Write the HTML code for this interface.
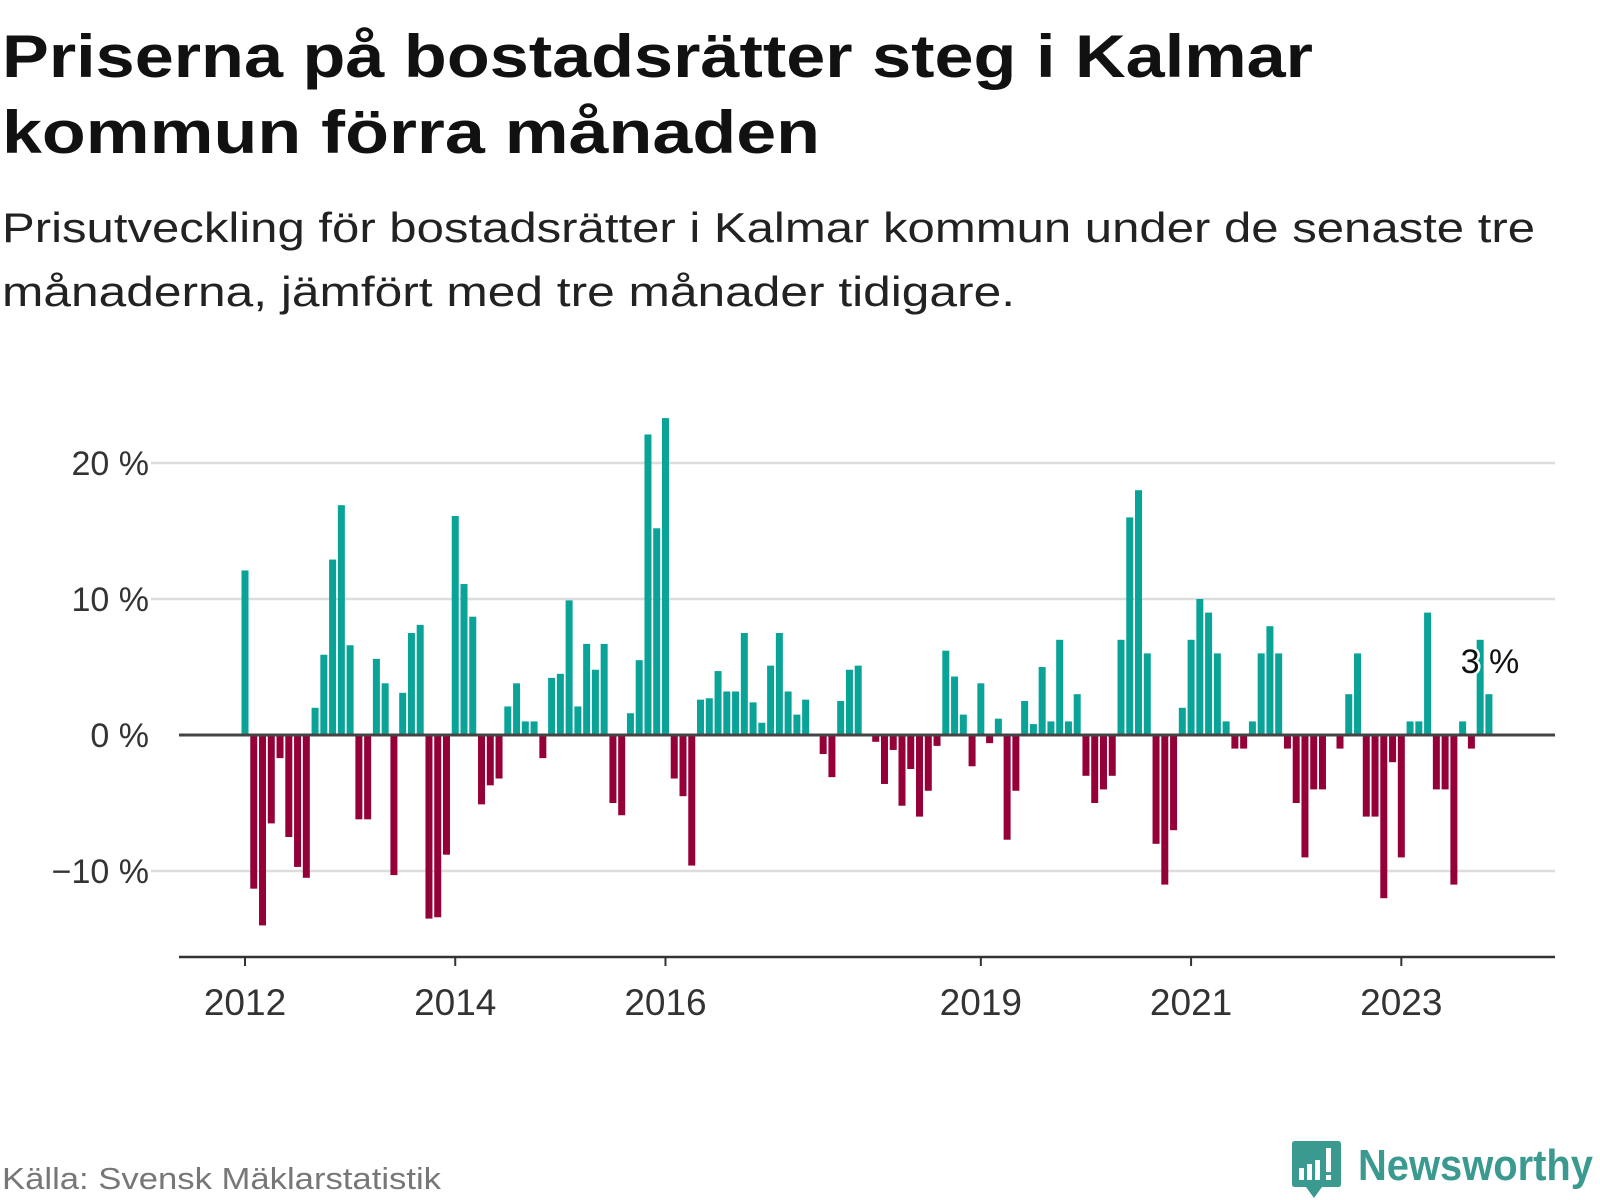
<!DOCTYPE html>
<html><head><meta charset="utf-8"><style>
html,body{margin:0;padding:0;background:#fff;}
svg{display:block;font-family:"Liberation Sans","DejaVu Sans",sans-serif;}
</style></head><body>
<svg id="chart" width="1600" height="1200" viewBox="0 0 1600 1200" xmlns="http://www.w3.org/2000/svg">
<text x="2" y="77" font-size="60" font-weight="bold" fill="#111" textLength="1311" lengthAdjust="spacingAndGlyphs">Priserna på bostadsrätter steg i Kalmar</text>
<text x="2" y="153" font-size="60" font-weight="bold" fill="#111" textLength="818" lengthAdjust="spacingAndGlyphs">kommun förra månaden</text>
<text x="2" y="242" font-size="42" fill="#222" textLength="1533" lengthAdjust="spacingAndGlyphs">Prisutveckling för bostadsrätter i Kalmar kommun under de senaste tre</text>
<text x="2" y="306" font-size="42" fill="#222" textLength="1013" lengthAdjust="spacingAndGlyphs">månaderna, jämfört med tre månader tidigare.</text>
<g id="grid"></g>
<g id="bars"></g>
<g id="axes"></g>
<text x="2" y="1189" font-size="31" fill="#777" textLength="439" lengthAdjust="spacingAndGlyphs">Källa: Svensk Mäklarstatistik</text>
<g>
<path d="M1292 1141 H1338 Q1341 1141 1341 1144 V1184 Q1341 1187 1338 1187 H1322 L1314 1198 L1306 1187 H1295 Q1292 1187 1292 1184 V1144 Q1292 1141 1295 1141 Z" fill="#3a9a8f"/>
<rect x="1299" y="1168" width="5" height="12" fill="#fff"/>
<rect x="1307" y="1164" width="5" height="16" fill="#fff"/>
<rect x="1315" y="1160" width="5" height="20" fill="#fff"/>
<rect x="1326" y="1148" width="5" height="24" fill="#fff"/>
<rect x="1326" y="1175" width="5" height="5" fill="#fff"/>
<text x="1358" y="1180" font-size="44" font-weight="bold" fill="#3a9a8f" textLength="235" lengthAdjust="spacingAndGlyphs">Newsworthy</text>
</g>
</svg>
<script>
const values = [
 12.1,-11.3,-14,-6.5,-1.7,-7.5,-9.7,-10.5,2,5.9,12.9,16.9,
 6.6,-6.2,-6.2,5.6,3.8,-10.3,3.1,7.5,8.1,-13.5,-13.4,-8.8,
 16.1,11.1,8.7,-5.1,-3.7,-3.2,2.1,3.8,1,1,-1.7,4.2,
 4.5,9.9,2.1,6.7,4.8,6.7,-5,-5.9,1.6,5.5,22.1,15.2,
 23.3,-3.2,-4.5,-9.6,2.6,2.7,4.7,3.2,3.2,7.5,2.4,0.9,
 5.1,7.5,3.2,1.5,2.6,0.1,-1.4,-3.1,2.5,4.8,5.1,0,
 -0.5,-3.6,-1.1,-5.2,-2.5,-6,-4.1,-0.8,6.2,4.3,1.5,-2.3,
 3.8,-0.6,1.2,-7.7,-4.1,2.5,0.8,5,1,7,1,3,
 -3,-5,-4,-3,7,16,18,6,-8,-11,-7,2,
 7,10,9,6,1,-1,-1,1,6,8,6,-1,
 -5,-9,-4,-4,0,-1,3,6,-6,-6,-12,-2,
 -9,1,1,9,-4,-4,-11,1,-1,7,3
];
const startYear = 2012;
const yTicks = [20,10,0,-10];
const yTickLabels = ["20 %","10 %","0 %","\u221210 %"];
const xTickYears = [2012,2014,2016,2019,2021,2023];
const lastLabel = "3 %";

const NS="http://www.w3.org/2000/svg";
const x0=245, perMonth=8.76, zeroY=735, perPct=13.6;
const xScale = i => x0 + i*perMonth;
const yScale = v => zeroY - v*perPct;
function mk(tag, attrs, parent){const e=document.createElementNS(NS,tag);for(const k in attrs)e.setAttribute(k,attrs[k]);parent.appendChild(e);return e;}
const grid=document.getElementById('grid'), bars=document.getElementById('bars'), axes=document.getElementById('axes');
yTicks.forEach((t,k)=>{
  if(t!==0){
    const l=mk('line',{x1:151,x2:1555,y1:yScale(t),y2:yScale(t),stroke:'#ddd','stroke-width':2.5},grid);
    
    
  }
  const tx=mk('text',{x:149,y:yScale(t)+12,'font-size':34,fill:'#333','text-anchor':'end'},axes);
  tx.textContent=yTickLabels[k];
  
  
});
values.forEach((v,i)=>{
  const y=yScale(Math.max(v,0)), h=Math.abs(v)*perPct;
  const r=mk('rect',{x:xScale(i)-3.5,y:y,width:7,height:h,fill:v>=0?'#0aa398':'#960039'},bars);
  
  
});
const zl=mk('line',{x1:179,x2:1555,y1:zeroY,y2:zeroY,stroke:'#444','stroke-width':3},axes);


const ax=mk('line',{x1:179,x2:1555,y1:957,y2:957,stroke:'#333','stroke-width':2.5},axes);


xTickYears.forEach(yr=>{
  const xx=xScale((yr-startYear)*12);
  const tk=mk('line',{x1:xx,x2:xx,y1:957,y2:966,stroke:'#333','stroke-width':2},axes);
  
  
  const t=mk('text',{x:xx,y:1015,'font-size':37,fill:'#333','text-anchor':'middle'},axes);
  t.textContent=yr;
  
  
});
const li=values.length-1;
const lab=mk('text',{x:xScale(li)+1,y:673,'font-size':34,fill:'#111','text-anchor':'middle',stroke:'#fff','stroke-width':5,'paint-order':'stroke'},axes);
lab.textContent=lastLabel;


</script>
</body></html>
